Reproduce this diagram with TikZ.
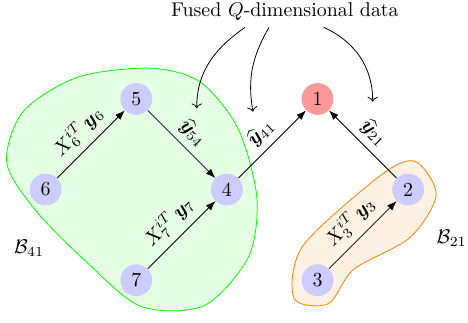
\documentclass[tikz,border=0pt]{standalone}
\usepackage{amsmath,amssymb,bm}
\usepackage{tikz}
\usepackage{xcolor}
\usetikzlibrary{arrows.meta,positioning}

\begin{document}
\begin{tikzpicture}[
  x=1.6cm, y=1.6cm,
  node distance=1.6cm and 1.6cm, on grid,
  vertex/.style={circle, fill=blue!20, minimum size=16pt, inner sep=0pt},
  sink/.style={vertex, fill=red!40},
  arr/.style={-{Latex}},
  feed/.style={->},
  lbl/.style={midway, above, sloped}
]
\useasboundingbox (-0.504,-1.462) rectangle (4.661,2.092);
% clusters
\filldraw[draw=green, fill=green!10] plot[smooth cycle] coordinates {
  (1.15,1.34) (0.35,1.24) (-0.25,0.86) (-0.43,0.30) (-0.12,-0.22)
  (0.45,-0.80) (1.05,-1.29) (1.75,-1.28) (2.24,-0.74) (2.33,-0.08)
  (2.12,0.68) (1.70,1.19)};
\filldraw[draw=orange, fill=orange!10] plot[smooth cycle] coordinates {
  (4.08,0.31) (4.31,-0.06) (4.02,-0.53) (3.40,-0.88) (3.12,-1.26)
  (2.74,-1.20) (2.84,-0.62) (3.70,0.16)};
\node (b41) at (-0.184,-0.646) {$\mathcal{B}_{41}$};
\node (b21) at (4.481,-0.539) {$\mathcal{B}_{21}$};
% agents
\node[vertex] (v6) at (0,0) {6};
\node[vertex, above right=of v6] (v5) {5};
\node[vertex, below right=of v5] (v4) {4};
\node[vertex, below left=of v4] (v7) {7};
\node[sink, above right=of v4] (v1) {1};
\node[vertex, below right=of v1] (v2) {2};
\node[vertex, below left=of v2] (v3) {3};
\draw[arr] (v6) -- node[lbl] {$X_6^{iT}\,\bm{y}_6$} (v5);
\draw[arr] (v5) -- node[lbl] {$\widehat{\bm{y}}_{54}$} (v4);
\draw[arr] (v7) -- node[lbl] {$X_7^{iT}\,\bm{y}_7$} (v4);
\draw[arr] (v4) -- node[lbl] {$\widehat{\bm{y}}_{41}$} (v1);
\draw[arr] (v2) -- node[lbl] {$\widehat{\bm{y}}_{21}$} (v1);
\draw[arr] (v3) -- node[lbl] {$X_3^{iT}\,\bm{y}_3$} (v2);
% fused data
\node (fused) at (2.641,1.965) {Fused $Q$-dimensional data};
\coordinate (tip54) at (1.667,0.896);
\coordinate (tip41) at (2.288,0.859);
\coordinate (tip21) at (3.609,0.969);
\draw[feed] ([xshift=-0.706cm]fused.south) to[out=215,in=90] (tip54);
\draw[feed] ([xshift=-0.282cm]fused.south) to[out=240,in=100] (tip41);
\draw[feed] ([xshift=0.689cm]fused.south) to[out=-25,in=90] (tip21);
\end{tikzpicture}
\end{document}
